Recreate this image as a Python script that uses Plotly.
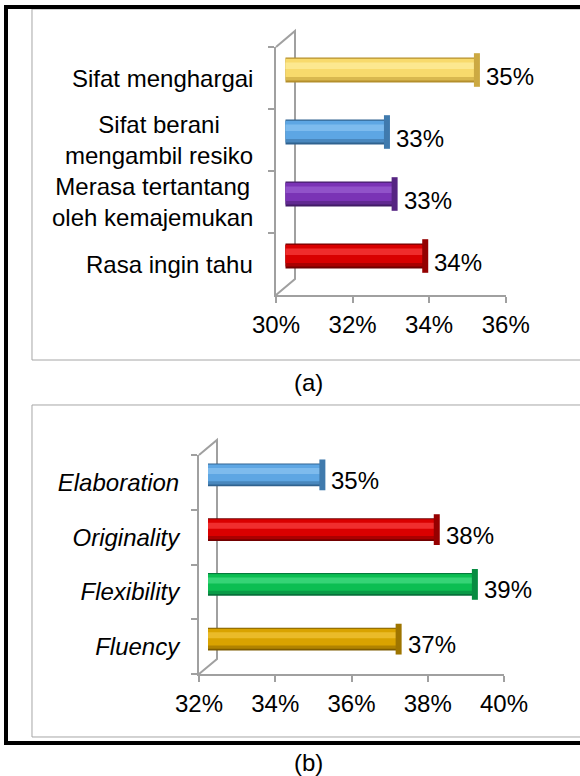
import plotly.graph_objects as go

W, H = 580, 776
FONT = "Liberation Sans, Arial, sans-serif"
FS = 24

# ---------------- data ----------------
cats_a = ["Rasa ingin tahu", "Merasa tertantang<br>oleh kemajemukan",
          "Sifat berani<br>mengambil resiko", "Sifat menghargai"]
vals_a = [0.3365, 0.3285, 0.3265, 0.3500]
ticks_a = [0.30, 0.32, 0.34, 0.36]
ticktext_a = ["30%", "32%", "34%", "36%"]

cats_b = ["Fluency", "Flexibility", "Originality", "Elaboration"]
vals_b = [0.370, 0.390, 0.380, 0.350]
ticks_b = [0.32, 0.34, 0.36, 0.38, 0.40]
ticktext_b = ["32%", "34%", "36%", "38%", "40%"]

# colours (main, dark, light) per bar
main_a = ["#D80000", "#7A33B5", "#5DA6E4", "#F8DA6C"]
dark_a = ["#700000", "#421C66", "#30628F", "#B48F2C"]
light_a = ["#FF4A4A", "#A066D6", "#93C9F4", "#FFF2A8"]

main_b = ["#D9A300", "#0CBE52", "#DA0000", "#5EA6E3"]
dark_b = ["#7E5C00", "#06713A", "#720000", "#30628F"]
light_b = ["#F5CB45", "#52E38E", "#FF4C4C", "#93C9F4"]


def px_x(p):
    return p / W


def px_y(p):
    return 1 - p / H


def blend(c1, c2, t):
    a = [int(c1[i:i + 2], 16) for i in (1, 3, 5)]
    b = [int(c2[i:i + 2], 16) for i in (1, 3, 5)]
    return "#" + "".join("%02X" % round(a[k] + (b[k] - a[k]) * t) for k in range(3))


fig = go.Figure()

# geometry of the two panels (pixels)
A = dict(x0=276.0, x1=505.7, ytop=47.0, ybot=295.0, dx=19.0, dy=16.0, bw=0.40, capsize=25)
B = dict(x0=199.0, x1=504.0, ytop=455.0, ybot=674.0, dx=18.0, dy=15.0, bw=0.42, capsize=23)

axis_gray = "#A0A0A0"
annotations = []


def add_panel(P, cats, vals, main, dark, light, xf, yf, xb, yb):
    bw = P["bw"]
    mid = [blend(d, m, 0.55) for d, m in zip(dark, main)]
    soft = [blend(m, l, 0.6) for m, l in zip(main, light)]
    cap = [blend(d, m, 0.35) for d, m in zip(dark, main)]
    # empty trace so the front (visible) axes form their own subplot
    fig.add_trace(go.Scatter(x=[], y=[], xaxis=xf, yaxis=yf, showlegend=False,
                             hoverinfo="skip"))
    layers = [
        (-0.50, 1.00, dark),
        (-0.42, 0.88, mid),
        (-0.28, 0.72, main),
        (0.04, 0.26, soft),
    ]
    for off, wid, cols in layers:
        fig.add_trace(go.Bar(
            x=vals, y=cats, orientation="h", xaxis=xb, yaxis=yb,
            marker=dict(color=cols, line=dict(width=0)),
            width=[bw * wid] * len(cats), offset=[bw * off] * len(cats),
            hoverinfo="skip", showlegend=False))
    # end caps
    fig.add_trace(go.Scatter(
        x=vals, y=cats, xaxis=xb, yaxis=yb, mode="markers",
        marker=dict(symbol="line-ns", size=P["capsize"] - 1, color=cap,
                    line=dict(color=cap, width=6)),
        cliponaxis=False, hoverinfo="skip", showlegend=False))
    # data labels: x on the bar scale, y on the front category axis
    for c, v in zip(cats, vals):
        annotations.append(dict(
            x=v, xref=xb, y=c, yref=yf, xanchor="left", yanchor="middle",
            xshift=7, yshift=2, text="%d%%" % round(v * 100), showarrow=False,
            font=dict(family=FONT, size=FS, color="black")))


add_panel(A, cats_a, vals_a, main_a, dark_a, light_a, "x", "y", "x2", "y2")
add_panel(B, cats_b, vals_b, main_b, dark_b, light_b, "x3", "y3", "x4", "y4")


def front_x(P, rng, tv, tt, anchor):
    return dict(domain=[px_x(P["x0"]), px_x(P["x1"])], range=rng, anchor=anchor,
                tickvals=tv, ticktext=tt, showline=True, linecolor=axis_gray, linewidth=2,
                ticks="outside", ticklen=6, tickwidth=2, tickcolor=axis_gray,
                showgrid=False, zeroline=False, fixedrange=True, automargin=False,
                tickfont=dict(family=FONT, size=FS, color="black"), ticklabelstandoff=1)


def front_y(P, cats, anchor, showlabels, italic):
    d = dict(domain=[px_y(P["ybot"]), px_y(P["ytop"])], range=[-0.5, len(cats) - 0.5],
             type="category", categoryorder="array", categoryarray=cats, anchor=anchor,
             showline=True, linecolor=axis_gray, linewidth=2, ticks="outside", ticklen=6,
             tickwidth=2, tickcolor=axis_gray, tickson="boundaries", showgrid=False,
             zeroline=False, fixedrange=True, showticklabels=showlabels, automargin=False)
    if showlabels:
        d["tickfont"] = dict(family=FONT, size=FS, color="black",
                             style="italic" if italic else "normal")
        d["ticklabelstandoff"] = 13
    return d


def bar_x(P, rng, anchor):
    h = P["dx"] / 2
    return dict(domain=[px_x(P["x0"] + h), px_x(P["x1"] + h)], range=rng, anchor=anchor,
                visible=False, fixedrange=True)


def bar_y(P, cats, anchor):
    h = P["dy"] / 2
    return dict(domain=[px_y(P["ybot"] - h), px_y(P["ytop"] - h)],
                range=[-0.5, len(cats) - 0.5], type="category", categoryorder="array",
                categoryarray=cats, anchor=anchor, visible=False, fixedrange=True)


def open_path(pts, color, width):
    path = "M " + " L ".join("%f,%f" % (px_x(a), px_y(b)) for a, b in pts)
    return dict(type="path", path=path, xref="paper", yref="paper", layer="below",
                line=dict(color=color, width=width))


def wall(P):
    x0, x1 = P["x0"], P["x0"] + P["dx"]
    yt, yb = P["ytop"], P["ybot"]
    return open_path([(x0, yt), (x1, yt - P["dy"]), (x1, yb - P["dy"]), (x0, yb)],
                     axis_gray, 2)


# frames: three-sided (the right side lies beyond the picture edge)
shapes = [
    open_path([(W, 9), (32, 9), (32, 360), (W, 360)], "#A6A6A6", 1),
    open_path([(W, 405), (32, 405), (32, 737), (W, 737)], "#A6A6A6", 1),
    open_path([(W, 7), (6, 7), (6, 743), (W, 743)], "black", 4),
    wall(A), wall(B),
]

for c in cats_a:
    annotations.append(dict(x=px_x(255), xref="paper", y=c, yref="y", xanchor="right",
                            yanchor="middle", align="center", text=c, showarrow=False,
                            font=dict(family=FONT, size=FS, color="black")))
annotations.append(dict(x=px_x(308), y=px_y(382), xref="paper", yref="paper", text="(a)",
                        xanchor="center", yanchor="middle", showarrow=False,
                        font=dict(family=FONT, size=FS, color="black")))
annotations.append(dict(x=px_x(308), y=px_y(762), xref="paper", yref="paper", text="(b)",
                        xanchor="center", yanchor="middle", showarrow=False,
                        font=dict(family=FONT, size=FS, color="black")))

fig.update_layout(
    width=W, height=H, autosize=False,
    margin=dict(l=0, r=0, t=0, b=0, pad=0, autoexpand=False),
    paper_bgcolor="white", plot_bgcolor="rgba(0,0,0,0)",
    barmode="overlay", showlegend=False,
    font=dict(family=FONT, size=FS, color="black"),
    xaxis=front_x(A, [0.30, 0.36], ticks_a, ticktext_a, "y"),
    yaxis=front_y(A, cats_a, "x", False, False),
    xaxis2=bar_x(A, [0.30, 0.36], "y2"),
    yaxis2=bar_y(A, cats_a, "x2"),
    xaxis3=front_x(B, [0.32, 0.40], ticks_b, ticktext_b, "y3"),
    yaxis3=front_y(B, cats_b, "x3", True, True),
    xaxis4=bar_x(B, [0.32, 0.40], "y4"),
    yaxis4=bar_y(B, cats_b, "x4"),
    shapes=shapes, annotations=annotations,
)

fig.write_html("out.html", config={"displayModeBar": False},
               post_script="document.body.style.margin='0';")
